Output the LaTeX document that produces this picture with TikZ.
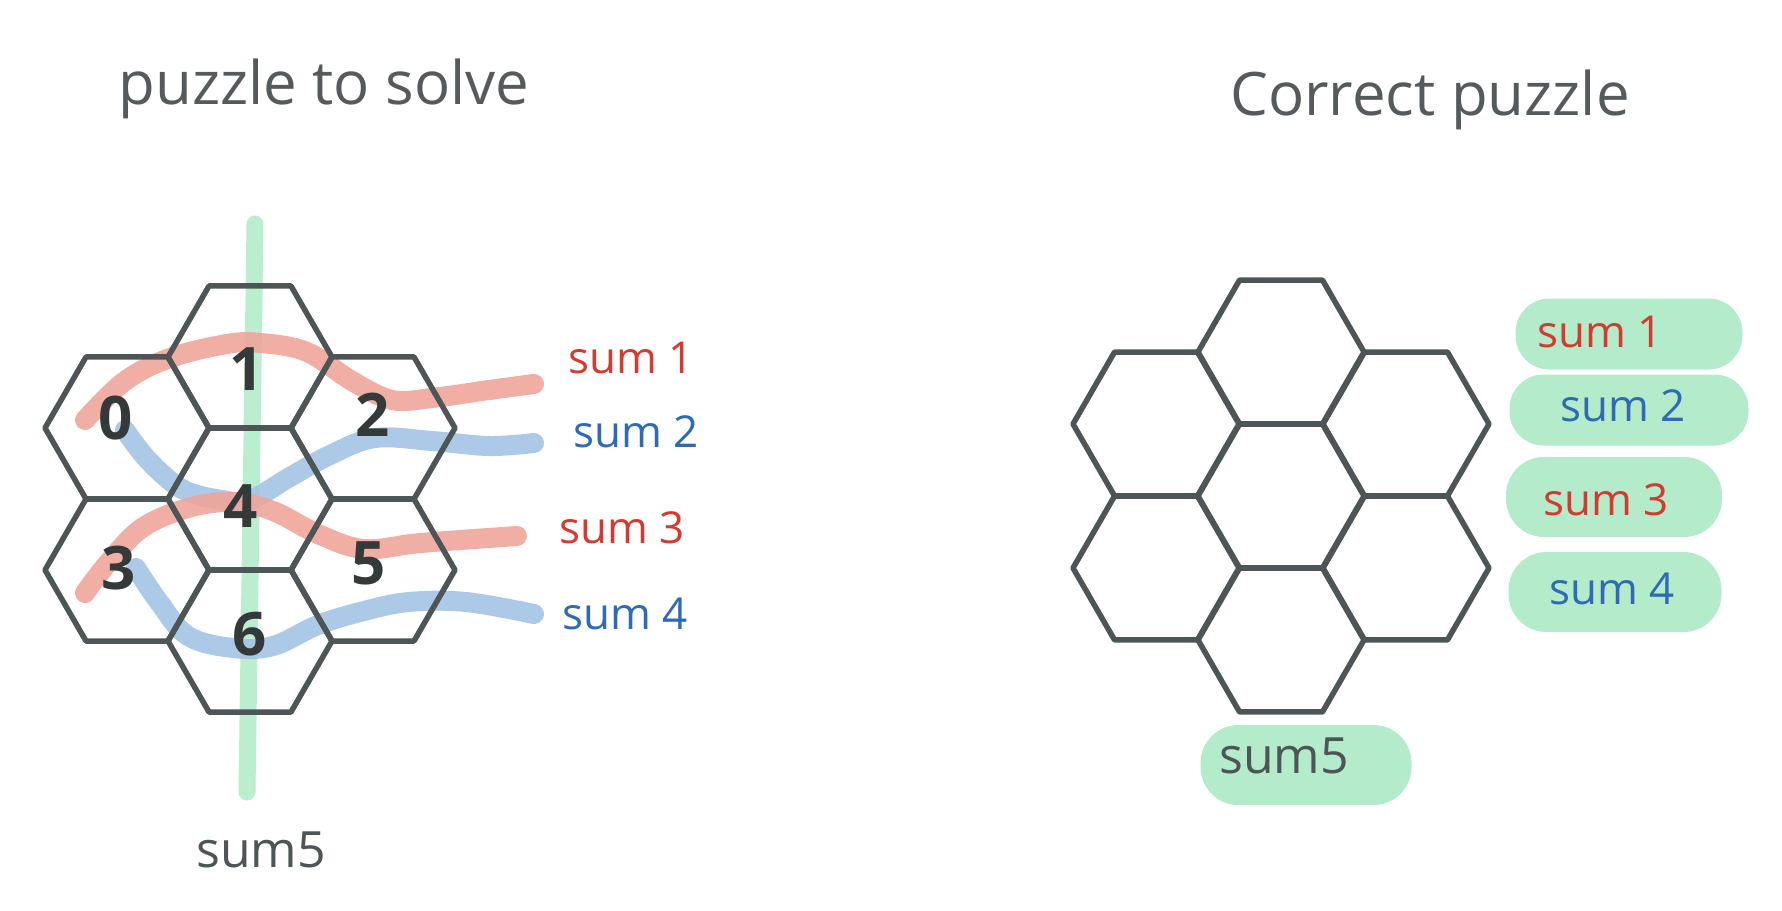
\documentclass[tikz,border=0pt]{standalone}
\usepackage{fontspec}
\setmainfont{Open Sans}
\usetikzlibrary{shapes.geometric}
\definecolor{hexgray}{RGB}{77,85,86}
\definecolor{titlegray}{RGB}{85,91,92}
\definecolor{digitgray}{RGB}{52,57,58}
\definecolor{hlgreen}{RGB}{180,235,202}
\definecolor{hlred}{RGB}{239,165,155}
\definecolor{hlblue}{RGB}{163,196,229}
\definecolor{txtred}{RGB}{212,58,47}
\definecolor{txtblue}{RGB}{47,107,181}
\begin{document}
\begin{tikzpicture}[x=1pt,y=-1pt,
  hexL/.style={regular polygon, regular polygon sides=6, minimum size=164pt, inner sep=0pt, draw=hexgray, line width=5.5pt, line join=round},
  hexR/.style={regular polygon, regular polygon sides=6, minimum size=166pt, inner sep=0pt, draw=hexgray, line width=5.5pt, line join=round},
  hl/.style={line width=20pt, line cap=round, line join=round, opacity=0.9},
  digit/.style={text=digitgray, font=\fontsize{60}{60}\selectfont\bfseries, inner sep=0pt},
  title/.style={text=titlegray, font=\fontsize{60}{62}\selectfont, inner sep=0pt},
  sumlbl/.style={font=\fontsize{44}{46}\selectfont, inner sep=0pt},
  pill/.style={fill=hlgreen, rounded corners=34pt, minimum height=70pt, inner sep=0pt}
]
\useasboundingbox (0,0) rectangle (1782,910);

% titles
\node[title] (t1) at (324,89) {puzzle to solve};
\node[title] (t2) at (1430,100) {Correct puzzle};

% ---- left: highlight strokes ----
\draw[hl, hlgreen, line width=17pt] (255,224) -- (247,792);
\draw[hl, hlred] plot[smooth, tension=0.6] coordinates {(85,420) (125,381) (170,358) (227,344) (261,343) (307,352) (352,381) (392,400) (432,398) (489,390) (534,384)};
\draw[hl, hlblue] plot[smooth, tension=0.6] coordinates {(125,430) (148,460) (182,489) (222,500) (250,500) (290,477) (330,455) (375,438) (432,441) (489,446) (534,443)};
\draw[hl, hlred] plot[smooth, tension=0.6] coordinates {(85,593) (108,563) (142,528) (188,508) (233,502) (273,511) (318,534) (364,549) (421,543) (517,536)};
\draw[hl, hlblue] plot[smooth, tension=0.6] coordinates {(136,568) (159,602) (188,636) (233,648) (273,646) (318,625) (364,611) (409,602) (466,602) (534,614)};

% ---- left hex grid ----
\node[hexL] (L1) at (250,357) {};
\node[hexL] (L4) at (250,499) {};
\node[hexL] (L6) at (250,641) {};
\node[hexL] (L0) at (127,428) {};
\node[hexL] (L3) at (127,570) {};
\node[hexL] (L2) at (373,428) {};
\node[hexL] (L5) at (373,570) {};

% digits
\node[digit] (d1) at (247,369) {1};
\node[digit] (d0) at (116,418) {0};
\node[digit] (d2) at (373,415) {2};
\node[digit] (d4) at (241,506) {4};
\node[digit] (d3) at (119,568) {3};
\node[digit] (d5) at (369,563) {5};
\node[digit] (d6) at (250,634) {6};

% left labels
\node[sumlbl, text=txtred]  (s1) at (631,358) {sum 1};
\node[sumlbl, text=txtblue] (s2) at (636,432) {sum 2};
\node[sumlbl, text=txtred]  (s3) at (622,528) {sum 3};
\node[sumlbl, text=txtblue] (s4) at (625,614) {sum 4};
\node[sumlbl, text=hexgray, font=\fontsize{50}{52}\selectfont] (s5) at (261,850) {sum5};

% ---- right hex grid ----
\node[hexR] (R1) at (1281,352) {};
\node[hexR] (R4) at (1281,496) {};
\node[hexR] (R6) at (1281,640) {};
\node[hexR] (R0) at (1156,424) {};
\node[hexR] (R3) at (1156,568) {};
\node[hexR] (R2) at (1406,424) {};
\node[hexR] (R5) at (1406,568) {};

% pills
\node[pill, minimum width=227pt, minimum height=71pt] (p1) at (1629,334) {};
\node[pill, minimum width=239pt, minimum height=71pt] (p2) at (1629,410) {};
\node[pill, minimum width=216pt, minimum height=80pt, rounded corners=38pt] (p3) at (1614,497) {};
\node[pill, minimum width=213pt, minimum height=80pt, rounded corners=38pt] (p4) at (1615,592) {};
\node[pill, minimum width=211pt, minimum height=80pt, rounded corners=38pt] (p5) at (1306,765) {};

\node[sumlbl, text=txtred]  (q1) at (1600,332) {sum 1};
\node[sumlbl, text=txtblue] (q2) at (1623,406) {sum 2};
\node[sumlbl, text=txtred]  (q3) at (1606,500) {sum 3};
\node[sumlbl, text=txtblue] (q4) at (1612,589) {sum 4};
\node[sumlbl, text=hexgray, font=\fontsize{50}{52}\selectfont] (q5) at (1284,756) {sum5};
\end{tikzpicture}
\end{document}
